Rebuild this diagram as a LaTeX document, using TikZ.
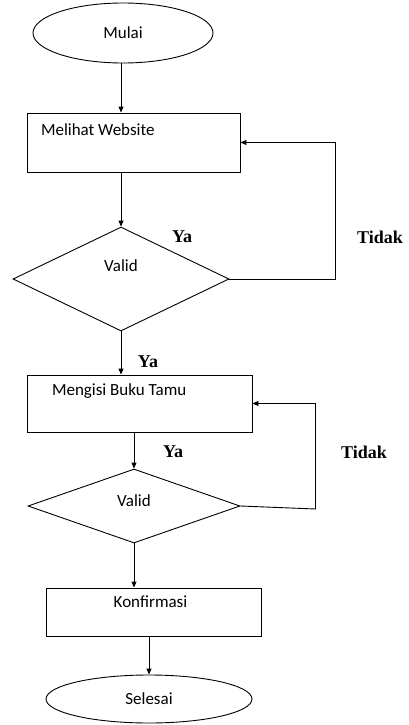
\documentclass[tikz,border=0pt]{standalone}
\usepackage{fontspec}
\setmainfont{Carlito}
\newfontfamily\answerfont{Liberation Serif}
\usetikzlibrary{shapes.geometric,arrows.meta}

\begin{document}
\begin{tikzpicture}[x=1pt,y=-1pt,
    line width=0.9pt,
    font=\fontsize{17}{20}\selectfont,
    terminal/.style={draw, ellipse, inner sep=0pt},
    process/.style={draw, rectangle, inner sep=0pt},
    decision/.style={draw, diamond, inner sep=0pt},
    boxtext/.style={inner sep=0pt, anchor=base west},
    answer/.style={inner sep=0pt, font=\answerfont\bfseries\fontsize{18}{20}\selectfont},
    arrow/.style={-{Triangle[length=6pt,width=5pt]}}]
    \useasboundingbox (0,0) rectangle (408,725);
    % Define the flowchart shapes
    \node[terminal, minimum width=180pt, minimum height=60pt] (mulai) at (123,33) {Mulai};
    \node[process, minimum width=213pt, minimum height=59pt,
        label={[boxtext, xshift=14pt, yshift=-23pt]north west:Melihat Website}] (melihat) at (133.5,142.5) {};
    \node[decision, minimum width=216pt, minimum height=104pt,
        label={[inner sep=0pt, anchor=center, yshift=13pt]center:Valid}] (valid1) at (121,279) {};
    \node[process, minimum width=225pt, minimum height=57pt,
        label={[boxtext, xshift=25pt, yshift=-21pt]north west:Mengisi Buku Tamu}] (mengisi) at (139.5,403.5) {};
    \node[decision, minimum width=212pt, minimum height=74pt,
        label={[inner sep=0pt, anchor=center, yshift=5pt]center:Valid}] (valid2) at (134,506) {};
    \node[process, minimum width=215pt, minimum height=48pt,
        label={[inner sep=0pt, anchor=base, xshift=-3pt, yshift=-20pt]north:Konfirmasi}] (konfirmasi) at (153.5,612) {};
    \node[terminal, minimum width=206pt, minimum height=48pt] (selesai) at (149,699) {Selesai};
    % Add answer labels
    \node[answer] (ya1) at (182,237) {Ya};
    \node[answer] (tidak1) at (380,237) {Tidak};
    \node[answer] (ya2) at (148,362) {Ya};
    \node[answer] (ya3) at (173,452) {Ya};
    \node[answer] (tidak2) at (364,452) {Tidak};
    % Add connectors
    \draw[arrow] (mulai.south -| valid1.north) -- (melihat.north -| valid1.north);
    \draw[arrow] (melihat.south -| valid1.north) -- (valid1.north);
    \draw[arrow] (valid1.south) -- (valid1.south |- mengisi.north);
    \draw[arrow] (mengisi.south -| valid2.north) -- (valid2.north);
    \draw[arrow] (valid2.south) -- (valid2.south |- konfirmasi.north);
    \draw[arrow] (konfirmasi.south -| selesai.north) -- (selesai.north);
    \draw[arrow] (valid1.east) -- ++(106,0) |- (melihat.east);
    \draw[arrow] (valid2.east) -- ++(75,3) |- (mengisi.east);
\end{tikzpicture}
\end{document}
